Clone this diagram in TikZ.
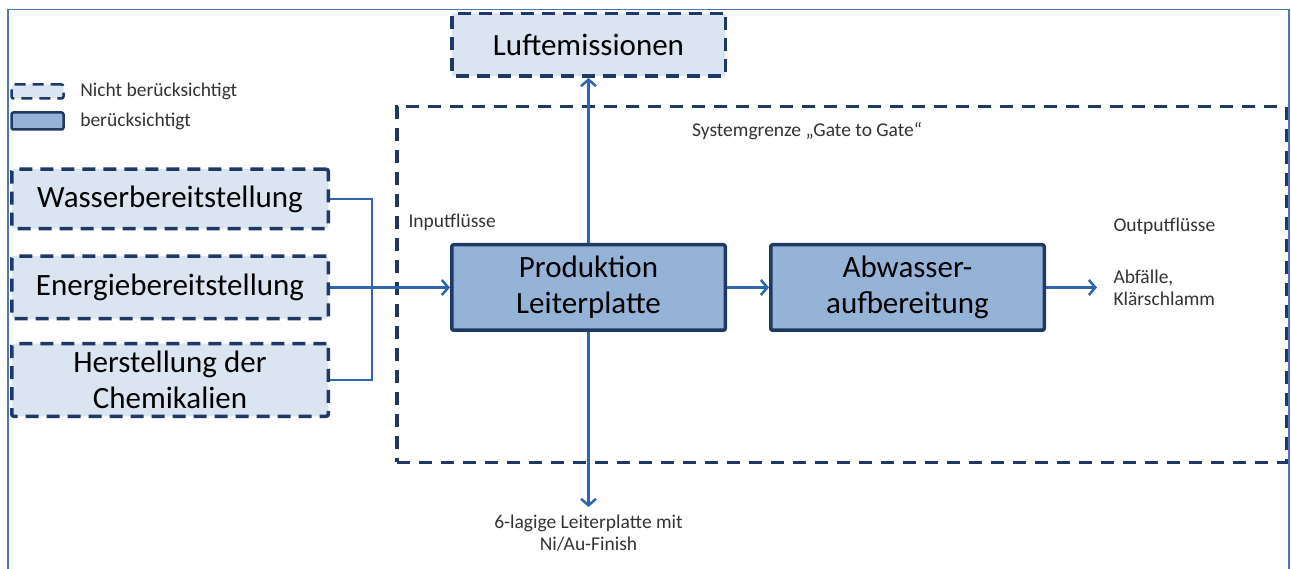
\documentclass[tikz,border=0pt]{standalone}
\usepackage{fontspec}
\setmainfont{Carlito}
\usetikzlibrary{arrows.meta, positioning}
\definecolor{cOpen}{HTML}{DBE5F1}
\definecolor{cDone}{HTML}{95B3D7}
\definecolor{cBorder}{HTML}{1F3864}
\definecolor{cFlow}{HTML}{2F65B0}
\definecolor{cFrame}{HTML}{4A78BC}
\tikzset{
  block/.style={rectangle, rounded corners=2pt, line width=3.5pt, draw=cBorder,
    minimum width=273.5pt, minimum height=85.5pt, align=center,
    font=\fontsize{31}{36}\selectfont},
  openblock/.style={block, fill=cOpen, dash pattern=on 13pt off 8pt, minimum height=62.5pt},
  doneblock/.style={block, fill=cDone},
  sysbox/.style={rectangle, draw=cBorder, line width=3.5pt, dash pattern=on 13pt off 9pt},
  flow/.style={-{Straight Barb[length=6.5pt, width=15pt]}, line width=2.5pt, draw=cFlow},
  link/.style={line width=2.5pt, draw=cFlow},
  note/.style={font=\fontsize{19.5}{22}\selectfont, text=black!80, align=center},
  frameline/.style={draw=cFrame, line width=1.5pt},
}
\begin{document}
\begin{tikzpicture}[x=1pt, y=-1pt, node distance=42pt]
  \useasboundingbox (0,0) rectangle (1291,569);

  % ----------------------------------------------------------------
  % Frame and system boundary
  % ----------------------------------------------------------------
  \draw[frameline] (8,569) -- (8,9.5) -- (1289,9.5) -- (1289,569);

  \node[sysbox, minimum width=889.5pt, minimum height=355.5pt] (sys) at (841.5,284.5) {};
  \node[note] (sysname) at (807,131) {Systemgrenze „Gate to Gate“};

  % ----------------------------------------------------------------
  % Legend
  % ----------------------------------------------------------------
  \node[openblock, inner sep=0pt, line width=2.5pt, dash pattern=on 11pt off 7pt,
    minimum width=52pt, minimum height=14pt] (legopen) at (37.5,91.5) {};
  \node[doneblock, inner sep=0pt, line width=2.5pt,
    minimum width=52pt, minimum height=17pt] (legdone) at (37.5,121) {};
  \node[note, right=12pt of legopen] (legopentext) {Nicht berücksichtigt};
  \node[note, right=12pt of legdone] (legdonetext) {berücksichtigt};

  % ----------------------------------------------------------------
  % Process chain
  % ----------------------------------------------------------------
  \node[doneblock] (prod) at (588.5,287.5) {Produktion\\Leiterplatte};
  \node[doneblock, right=of prod] (abw) {Abwasser-\\aufbereitung};
  \node[openblock, above=165pt of prod] (luft) {Luftemissionen};

  % ----------------------------------------------------------------
  % Upstream supply (not considered)
  % ----------------------------------------------------------------
  \node[openblock, left=120pt of prod, minimum width=316.5pt] (energie) {Energiebereitstellung};
  \node[openblock, above=24pt of energie, minimum width=316.5pt, minimum height=59.5pt] (wasser)
    {Wasserbereitstellung};
  \node[openblock, below=21.5pt of energie, minimum width=316.5pt, minimum height=72.5pt] (chemie)
    {Herstellung der\\Chemikalien};

  % ----------------------------------------------------------------
  % Flow labels
  % ----------------------------------------------------------------
  \node[note, anchor=west] (inlabel) at (405,222) {Inputflüsse};
  \node[note, anchor=west] (outlabel) at (1110,226) {Outputflüsse};
  \node[note, anchor=west, align=left] (waste) at (1110,288) {Abfälle,\\Klärschlamm};

  \coordinate (abwout) at (1097,287.5);
  \coordinate (prodout) at (588.5,507);
  \node[note, below=4pt of prodout] (product) {6-lagige Leiterplatte mit\\Ni/Au-Finish};

  % ----------------------------------------------------------------
  % Arrows
  % ----------------------------------------------------------------
  \draw[link] (wasser.east) -- ++(42pt,0) |- (chemie.east);
  \draw[flow] (energie) -- (prod);
  \draw[flow] (prod) -- (abw);
  \draw[flow] (prod) -- (luft);
  \draw[flow] (prod) -- (prodout);
  \draw[flow] (abw) -- (abwout);

\end{tikzpicture}
\end{document}
